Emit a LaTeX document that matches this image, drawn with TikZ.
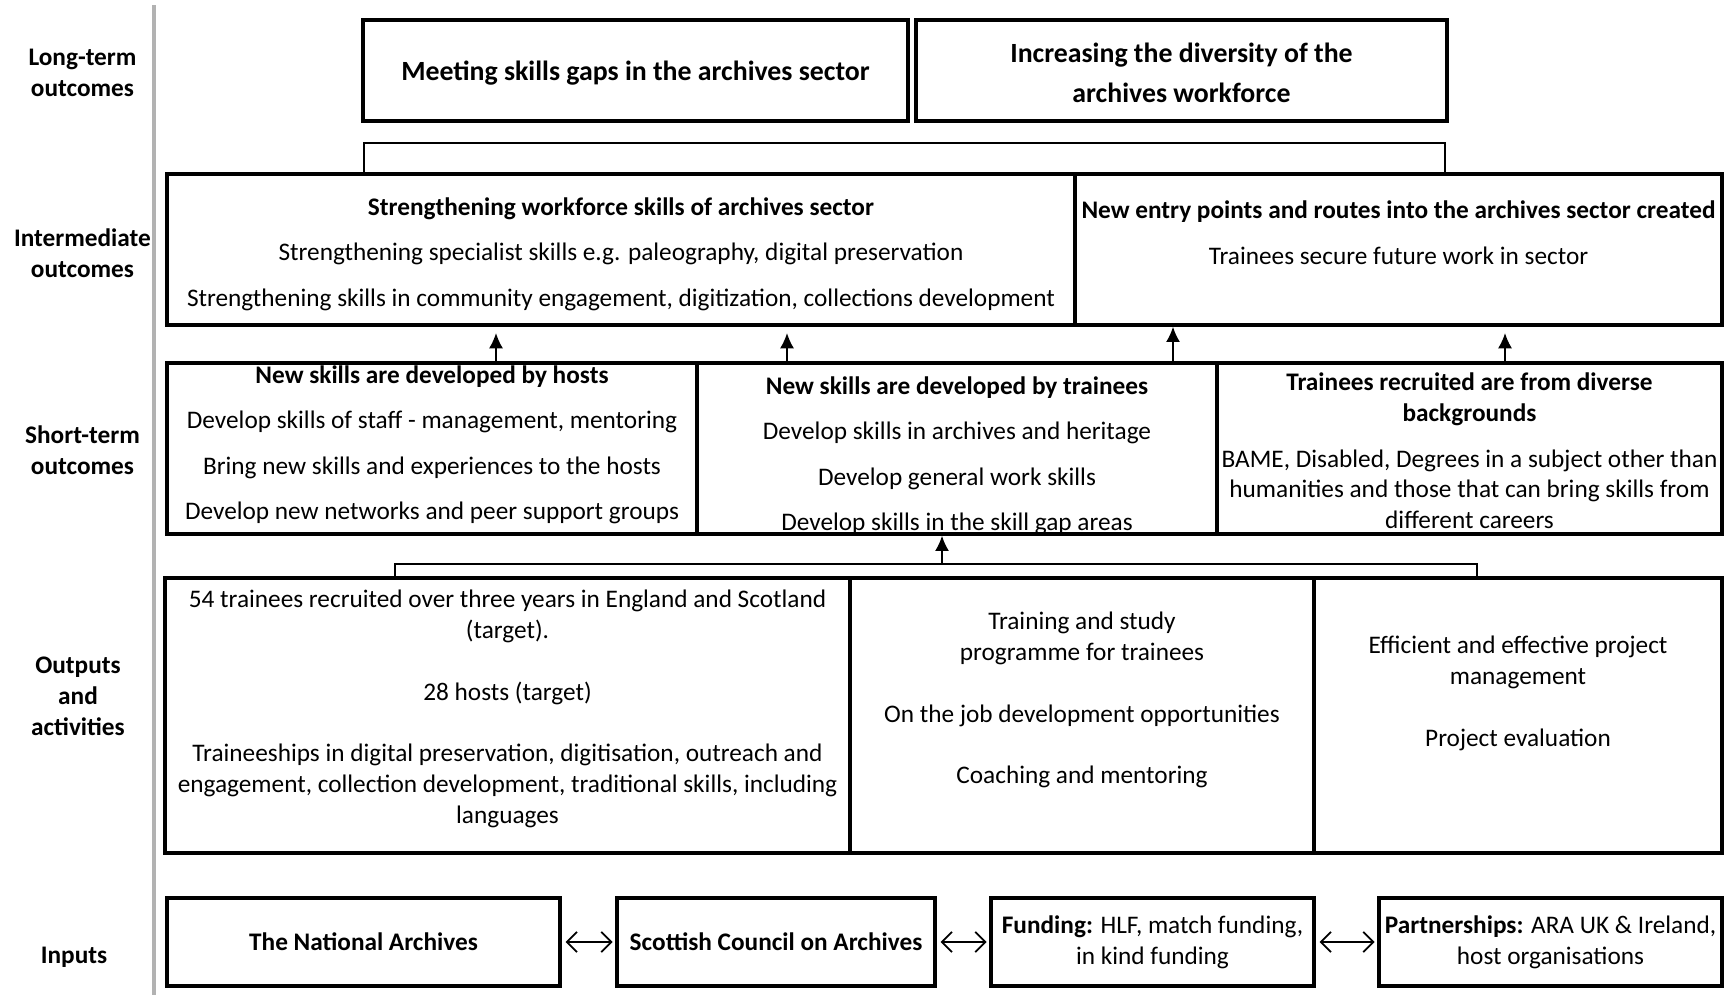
\documentclass[tikz,border=0pt]{standalone}
\usepackage{fontspec}
\setmainfont{Carlito}
\usetikzlibrary{arrows.meta,positioning,calc}

\newcommand{\px}{0.0139cm}

\tikzset{
	box/.style={draw, line width=1.4pt, inner sep=0pt},
	txt/.style={align=center, inner sep=0pt, font=\fontsize{10}{12.2}\selectfont},
	bigtxt/.style={align=center, inner sep=0pt, font=\fontsize{11}{15.7}\selectfont\bfseries},
	side/.style={align=center, inner sep=0pt, font=\fontsize{10}{12.2}\selectfont\bfseries},
	up/.style={-{Latex[length=6pt,width=5.5pt]}, line width=0.6pt},
	both/.style={{Straight Barb[length=4pt,width=8pt]}-{Straight Barb[length=4pt,width=8pt]}, line width=0.7pt, shorten <=1.5pt, shorten >=1pt},
	link/.style={line width=0.6pt}
}

\begin{document}
\begin{tikzpicture}[x=\px, y=-\px]
	\useasboundingbox (0,0) rectangle (1724,995);
	
	% row labels
	\draw[gray!60, line width=1.2pt] (154,5) -- (154,995);
	\node[side] (lblong) at (82.5,72.6) {Long-term\\outcomes};
	\node[side] (lbmid) at (82.5,253) {Intermediate\\outcomes};
	\node[side] (lbshort) at (82.5,450) {Short-term\\outcomes};
	\node[side] (lbout) at (78,696) {Outputs\\and\\activities};
	\node[side] (lbin) at (74,957.6) {Inputs};
	
	% long-term outcomes
	\node[box,
	minimum width=545*\px,
	minimum height=101*\px] (lt1) at (635.5,70.5) {};
	\node[box,
	minimum width=531*\px,
	minimum height=101*\px] (lt2) at (1181.5,70.5) {};
	\node[bigtxt] (lt1t) at (635.5,72.6) {Meeting skills gaps in the archives sector};
	\node[bigtxt] (lt2t) at (1181.5,72.6) {Increasing the diversity of the\\archives workforce};
	
	% intermediate outcomes
	\node[box,
	minimum width=908*\px,
	minimum height=151*\px] (im1) at (621,249.5) {};
	\node[box,
	minimum width=647*\px,
	minimum height=151*\px] (im2) at (1398.5,249.5) {};
	\node[txt] (im1t) at (621,254) {
	\textbf{Strengthening workforce skills of archives sector}\\[5.8pt]
	Strengthening specialist skills e.g. paleography, digital preservation\\[5.8pt]
	Strengthening skills in community engagement, digitization, collections development
	};
	\node[txt] (im2t) at (1398.5,232.5) {
	\textbf{New entry points and routes into the archives sector created}\\[5.8pt]
	Trainees secure future work in sector
	};
	
	% short-term outcomes
	\node[box,
	minimum width=530*\px,
	minimum height=171*\px] (st1) at (432,448.5) {};
	\node[box,
	minimum width=520*\px,
	minimum height=171*\px] (st2) at (957,448.5) {};
	\node[box,
	minimum width=505*\px,
	minimum height=171*\px] (st3) at (1469.5,448.5) {};
	\node[txt] (st1t) at (432,445) {
	\textbf{New skills are developed by hosts}\\[5.8pt]
	Develop skills of staff - management, mentoring\\[5.8pt]
	Bring new skills and experiences to the hosts\\[5.8pt]
	Develop new networks and peer support groups
	};
	\node[txt] (st2t) at (957,456) {
	\textbf{New skills are developed by trainees}\\[5.8pt]
	Develop skills in archives and heritage\\[5.8pt]
	Develop general work skills\\[5.8pt]
	Develop skills in the skill gap areas
	};
	\node[txt] (st3t) at (1469.5,451) {
	\textbf{Trainees recruited are from diverse}\\
	\textbf{backgrounds}\\[5.8pt]
	BAME, Disabled, Degrees in a subject other than\\
	humanities and those that can bring skills from\\
	different careers
	};
	
	% outputs and activities
	\node[box,
	minimum width=685*\px,
	minimum height=275*\px] (out1) at (507.5,715.5) {};
	\node[box,
	minimum width=464*\px,
	minimum height=275*\px] (out2) at (1082,715.5) {};
	\node[box,
	minimum width=408*\px,
	minimum height=275*\px] (out3) at (1518,715.5) {};
	\node[txt] (out1t) at (507.5,709) {
	54 trainees recruited over three years in England and Scotland\\
	(target).\\[12.2pt]
	28 hosts (target)\\[12.2pt]
	Traineeships in digital preservation, digitisation, outreach and\\
	engagement, collection development, traditional skills, including\\
	languages
	};
	\node[txt] (out2t) at (1082,700) {
	Training and study\\
	programme for trainees\\[12.2pt]
	On the job development opportunities\\[12.2pt]
	Coaching and mentoring
	};
	\node[txt] (out3t) at (1518,693.5) {
	Efficient and effective project\\
	management\\[12.2pt]
	Project evaluation
	};
	
	% inputs
	\node[box,
	minimum width=393*\px,
	minimum height=88*\px] (in1) at (363.5,942) {};
	\node[box,
	minimum width=318*\px,
	minimum height=88*\px] (in2) at (776,942) {};
	\node[box,
	minimum width=323*\px,
	minimum height=88*\px] (in3) at (1152.5,942) {};
	\node[box,
	minimum width=343*\px,
	minimum height=88*\px] (in4) at (1550.5,942) {};
	\node[txt] (in1t) at (in1) {\textbf{The National Archives}};
	\node[txt] (in2t) at (in2) {\textbf{Scottish Council on Archives}};
	\node[txt] (in3t) at (in3) {\textbf{Funding:} HLF, match funding,\\in kind funding};
	\node[txt] (in4t) at (in4) {\textbf{Partnerships:} ARA UK \& Ireland,\\host organisations};
	
	% Lines
	\coordinate (c1) at (364,143);
	\coordinate (c2) at (1445,143);
	\draw[link] (im1.north -| c1) -- (c1) -- (c2) -- (im2.north -| c2);
	\coordinate (b1) at (395,564);
	\coordinate (b2) at (1477,564);
	\coordinate (b3) at (942,564);
	\draw[link] (out1.north -| b1) -- (b1) -- (b2) -- (out3.north -| b2);
	
	% Arrows
	\coordinate (a1) at (496,0);
	\coordinate (a2) at (787,0);
	\coordinate (a3) at (1173,0);
	\coordinate (a4) at (1505,0);
	\draw[up, shorten >=2.5pt] (st1.north -| a1) -- (im1.south -| a1);
	\draw[up, shorten >=2.5pt] (st2.north -| a2) -- (im1.south -| a2);
	\draw[up] (st2.north -| a3) -- (im2.south -| a3);
	\draw[up, shorten >=2.5pt] (st3.north -| a4) -- (im2.south -| a4);
	\draw[up] (b3) -- (b3 |- st2.south);
	\draw[both] (in1) -- (in2);
	\draw[both] (in2) -- (in3);
	\draw[both] (in3) -- (in4);
\end{tikzpicture}
\end{document}
